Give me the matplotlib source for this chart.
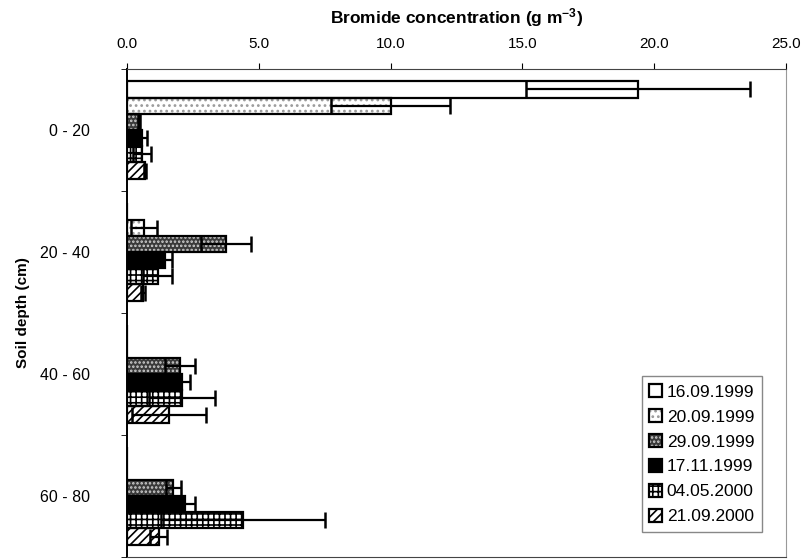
import numpy as np
import matplotlib
matplotlib.use("Agg")
import matplotlib.pyplot as plt
from matplotlib.ticker import FormatStrFormatter, FixedLocator
from matplotlib.legend_handler import HandlerTuple

plt.rcParams['font.family'] = ['Liberation Sans', 'DejaVu Sans']
plt.rcParams['mathtext.fontset'] = 'custom'
plt.rcParams['mathtext.rm'] = 'Liberation Sans'
plt.rcParams['mathtext.bf'] = 'Liberation Sans:bold'
plt.rcParams['mathtext.default'] = 'bf'
plt.rcParams['hatch.linewidth'] = 1.2

# soil depth classes (top to bottom)
depths = ['0 - 20', '20 - 40', '40 - 60', '60 - 80']
dates = ['16.09.1999', '20.09.1999', '29.09.1999', '17.11.1999', '04.05.2000', '21.09.2000']

# bromide concentration (g m-3) per sampling date, one value per depth
br_16_09_1999 = [19.4, 0.0, 0.0, 0.0]
br_20_09_1999 = [10.0, 0.65, 0.0, 0.0]
br_29_09_1999 = [0.45, 3.75, 2.0, 1.75]
br_17_11_1999 = [0.57, 1.43, 2.1, 2.2]
br_04_05_2000 = [0.57, 1.17, 2.07, 4.4]
br_21_09_2000 = [0.68, 0.6, 1.6, 1.2]

# standard deviations
sd_16_09_1999 = [4.25, 0.0, 0.0, 0.0]
sd_20_09_1999 = [2.25, 0.5, 0.0, 0.0]
sd_29_09_1999 = [0.05, 0.95, 0.57, 0.28]
sd_17_11_1999 = [0.18, 0.27, 0.28, 0.37]
sd_04_05_2000 = [0.33, 0.55, 1.25, 3.1]
sd_21_09_2000 = [0.05, 0.08, 1.4, 0.33]

values = [br_16_09_1999, br_20_09_1999, br_29_09_1999, br_17_11_1999, br_04_05_2000, br_21_09_2000]
errors = [sd_16_09_1999, sd_20_09_1999, sd_29_09_1999, sd_17_11_1999, sd_04_05_2000, sd_21_09_2000]

# (face colour, hatch, hatch colour) for each date
styles = [
    ('white', None, 'white'),
    ('white', '...', '#9a9a9a'),
    ('#3a3a3a', '....', '#d0d0d0'),
    ('black', None, 'black'),
    ('white', '+++', 'black'),
    ('white', '////', 'black'),
]

fig = plt.figure(figsize=(8.02, 5.59), dpi=100)
ax = fig.add_axes([0.1584, 0.0036, 0.8216, 0.873])

y = np.arange(len(depths))
h = 0.133
handles = []
for j, (vals, errs) in enumerate(zip(values, errors)):
    pos = y + (j - 2.5) * h
    face, hatch, hcol = styles[j]
    fill = ax.barh(pos, vals, height=h, color=face, hatch=hatch,
                   edgecolor=hcol, linewidth=0, zorder=2)
    edge = ax.barh(pos, vals, height=h, fill=False, edgecolor='black',
                   linewidth=1.6, zorder=3)
    handles.append((fill, edge))
    vals = np.array(vals)
    errs = np.array(errs)
    m = errs > 0
    ax.errorbar(vals[m], pos[m], xerr=errs[m], fmt='none', ecolor='black',
                elinewidth=1.6, capsize=6, capthick=1.8, zorder=4)

ax.set_xlim(0, 25)
ax.set_ylim(3.5, -0.5)
ax.xaxis.tick_top()
ax.xaxis.set_label_position('top')
ax.set_xticks(np.arange(0, 26, 5))
ax.xaxis.set_major_formatter(FormatStrFormatter('%.1f'))
ax.tick_params(axis='x', length=4, pad=9, labelsize=11)
ax.set_xlabel('Bromide concentration (g m$^{-3}$)', fontweight='bold',
              fontsize=12.5, labelpad=10)

ax.set_yticks(y)
ax.set_yticklabels(depths)
ax.yaxis.set_minor_locator(FixedLocator(np.arange(-0.5, 4, 1)))
ax.tick_params(axis='y', which='major', length=0, pad=27, labelsize=11.5)
ax.tick_params(axis='y', which='minor', length=4)
ax.set_ylabel('Soil depth (cm)', fontweight='bold', fontsize=11, labelpad=7)

ax.spines['left'].set_linewidth(1.4)
ax.spines['top'].set_color('#444444')
ax.spines['bottom'].set_color('#444444')
ax.spines['right'].set_color('#999999')
ax.spines['right'].set_linewidth(0.8)

ax.legend(handles, dates, handler_map={tuple: HandlerTuple(ndivide=1)},
          loc='lower right', bbox_to_anchor=(0.977, 0.033), fontsize=12.5,
          fancybox=False, edgecolor='#888888', framealpha=1,
          handlelength=0.75, handleheight=0.75, handletextpad=0.25,
          labelspacing=0.55, borderpad=0.45)

fig.savefig('out.png', dpi=100)
